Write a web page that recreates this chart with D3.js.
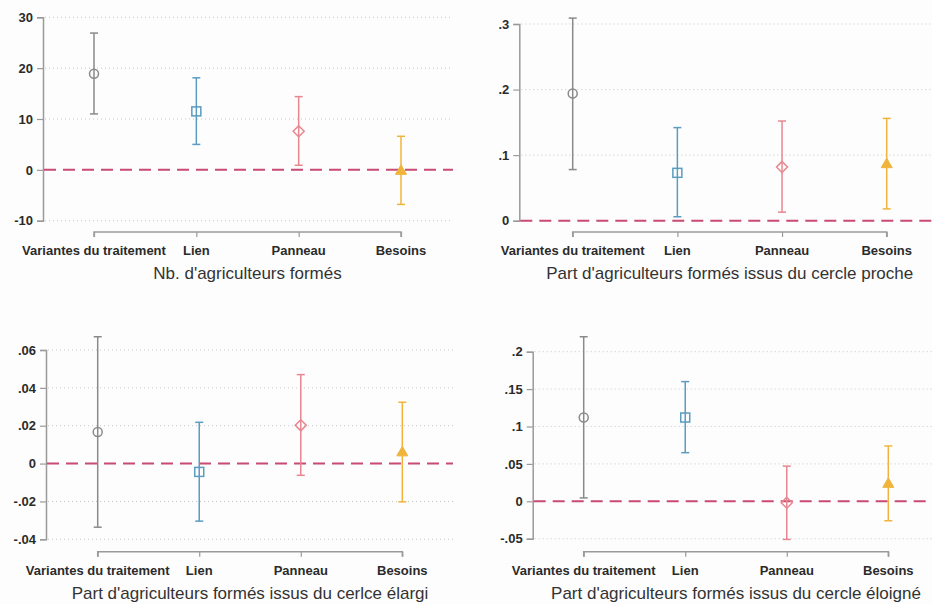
<!DOCTYPE html>
<html><head><meta charset="utf-8">
<script src="https://cdn.jsdelivr.net/npm/d3@7"></script>
<style>body{margin:0;background:#fdfdfd}svg{display:block}</style>
</head><body>
<script>
const categories = ["Variantes du traitement","Lien","Panneau","Besoins"];
const titles = ["Nb. d'agriculteurs formés","Part d'agriculteurs formés issus du cercle proche","Part d'agriculteurs formés issus du cerlce élargi","Part d'agriculteurs formés issus du cercle éloigné"];

const p1Est = [18.9, 11.5, 7.6, -0.1];
const p1Lo  = [11.0, 5.0, 0.9, -6.8];
const p1Hi  = [26.9, 18.1, 14.4, 6.6];
const p1Ticks = [-10, 0, 10, 20, 30];
const p1TickLabels = ["-10","0","10","20","30"];

const p2Est = [0.194, 0.073, 0.082, 0.087];
const p2Lo  = [0.078, 0.006, 0.013, 0.018];
const p2Hi  = [0.309, 0.142, 0.152, 0.156];
const p2Ticks = [0, 0.1, 0.2, 0.3];
const p2TickLabels = ["0",".1",".2",".3"];

const p3Est = [0.0167, -0.0044, 0.0202, 0.0062];
const p3Lo  = [-0.0336, -0.0304, -0.0062, -0.0202];
const p3Hi  = [0.067, 0.0218, 0.047, 0.0324];
const p3Ticks = [-0.04, -0.02, 0, 0.02, 0.04, 0.06];
const p3TickLabels = ["-.04","-.02","0",".02",".04",".06"];

const p4Est = [0.112, 0.112, -0.002, 0.024];
const p4Lo  = [0.0045, 0.065, -0.051, -0.026];
const p4Hi  = [0.220, 0.160, 0.047, 0.074];
const p4Ticks = [-0.05, 0, 0.05, 0.1, 0.15, 0.2];
const p4TickLabels = ["-.05","0",".05",".1",".15",".2"];

const colors = ["#8a8a8a","#5b9cc0","#e8868f","#f0b43c"];
const shapes = ["circle","square","diamond","triangle"];

const panels = [
  {est:p1Est, lo:p1Lo, hi:p1Hi, ticks:p1Ticks, labels:p1TickLabels, title:titles[0],
   axisX:43, gridR:453, yr:[220.7,17.3], x0:94, x1:401, catY:232, labY:255, titY:279},
  {est:p2Est, lo:p2Lo, hi:p2Hi, ticks:p2Ticks, labels:p2TickLabels, title:titles[1],
   axisX:519.3, gridR:932, yr:[220.7,24], x0:572.7, x1:886.7, catY:232, labY:255, titY:279},
  {est:p3Est, lo:p3Lo, hi:p3Hi, ticks:p3Ticks, labels:p3TickLabels, title:titles[2],
   axisX:46, gridR:453, yr:[539.3,350], x0:97.7, x1:402.3, catY:551.7, labY:575, titY:599},
  {est:p4Est, lo:p4Lo, hi:p4Hi, ticks:p4Ticks, labels:p4TickLabels, title:titles[3],
   axisX:532.7, gridR:932, yr:[538.7,351.7], x0:583.7, x1:888.3, catY:551.7, labY:575, titY:599}
];

const svg = d3.select("body").append("svg").attr("width",932).attr("height",604)
  .style("font-family","'Liberation Sans', Arial, sans-serif");
svg.append("rect").attr("width",932).attr("height",604).attr("fill","#fdfdfd");

panels.forEach(p => {
  const y = d3.scaleLinear().domain(d3.extent(p.ticks)).range(p.yr);
  const x = d3.scalePoint().domain(categories).range([p.x0, p.x1]);
  const g = svg.append("g");

  // grid
  g.selectAll(".grid").data(p.ticks.filter(t => t !== 0)).join("line")
    .attr("x1", p.axisX+2).attr("x2", p.gridR)
    .attr("y1", d => y(d)).attr("y2", d => y(d))
    .attr("stroke","#c8c8c8").attr("stroke-width",1).attr("stroke-dasharray","1,3");

  // y axis
  const yAxis = d3.axisLeft(y).tickValues(p.ticks).tickFormat((d,i) => p.labels[i]).tickSize(6).tickPadding(4);
  const ya = g.append("g").attr("transform",`translate(${p.axisX},0)`).call(yAxis);
  ya.select(".domain").attr("stroke","#9a9a9a").attr("stroke-width",1.5);
  ya.selectAll(".tick line").attr("stroke","#9a9a9a").attr("stroke-width",1.2);
  ya.selectAll(".tick text").attr("fill","#2b2b2b").style("font-size","13px").style("font-weight","bold");

  // x axis
  const xAxis = d3.axisBottom(x).tickSize(5).tickSizeOuter(0).tickFormat("");
  const xa = g.append("g").attr("transform",`translate(0,${p.catY})`).call(xAxis);
  xa.select(".domain").attr("stroke","#9a9a9a").attr("stroke-width",1.5)
    .attr("d", `M${p.x0},5V0H${p.x1}V5`);
  xa.selectAll(".tick line").attr("stroke","#9a9a9a").attr("stroke-width",1.2);
  g.selectAll(".clab").data(categories).join("text")
    .attr("x", d => x(d)).attr("y", p.labY).attr("text-anchor","middle")
    .attr("fill","#2b2b2b").style("font-size","13px").style("font-weight","bold").text(d => d);

  // title
  g.append("text").attr("x",(p.x0+p.x1)/2).attr("y",p.titY).attr("text-anchor","middle")
    .attr("fill","#333").style("font-size","17px").text(p.title);

  // zero dashed line
  g.append("line").attr("x1",p.axisX+1).attr("x2",p.gridR).attr("y1",y(0)).attr("y2",y(0))
    .attr("stroke","#c94a73").attr("stroke-width",2).attr("stroke-dasharray","12,7");

  // error bars
  categories.forEach((c,i) => {
    const cx = x(c), col = colors[i];
    g.append("line").attr("x1",cx).attr("x2",cx).attr("y1",y(p.lo[i])).attr("y2",y(p.hi[i]))
      .attr("stroke",col).attr("stroke-width",1.5);
    [p.lo[i], p.hi[i]].forEach(v => {
      g.append("line").attr("x1",cx-4).attr("x2",cx+4).attr("y1",y(v)).attr("y2",y(v))
        .attr("stroke",col).attr("stroke-width",1.5);
    });
    const cy = y(p.est[i]);
    const s = shapes[i];
    if (s === "circle") {
      g.append("circle").attr("cx",cx).attr("cy",cy).attr("r",4.5)
        .attr("fill","none").attr("stroke",col).attr("stroke-width",1.5);
    } else if (s === "square") {
      g.append("rect").attr("x",cx-4.5).attr("y",cy-4.5).attr("width",9).attr("height",9)
        .attr("fill","none").attr("stroke",col).attr("stroke-width",1.5);
    } else if (s === "diamond") {
      g.append("path").attr("d",`M${cx},${cy-5.5}L${cx+5.5},${cy}L${cx},${cy+5.5}L${cx-5.5},${cy}Z`)
        .attr("fill","none").attr("stroke",col).attr("stroke-width",1.5);
    } else {
      g.append("path").attr("d",`M${cx},${cy-5.5}L${cx+5.5},${cy+4}L${cx-5.5},${cy+4}Z`)
        .attr("fill",col).attr("stroke",col).attr("stroke-width",1);
    }
  });
});
</script>
</body></html>
